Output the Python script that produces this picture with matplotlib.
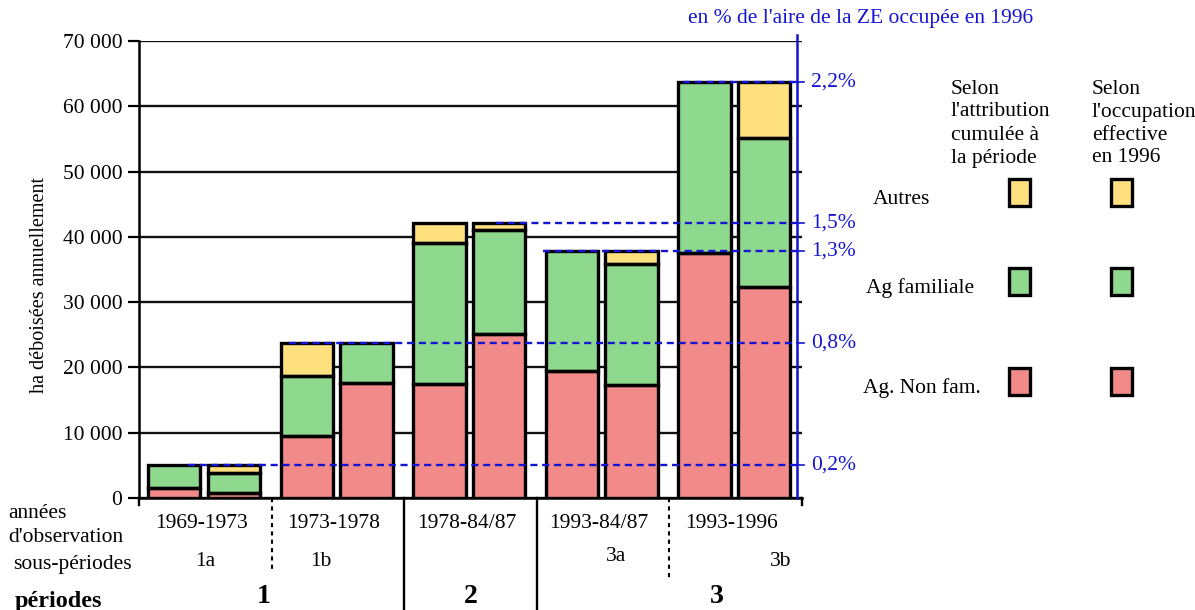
import numpy as np
import matplotlib
matplotlib.use("Agg")
import matplotlib.pyplot as plt
from matplotlib.patches import Rectangle

plt.rcParams['font.family'] = ['Liberation Serif', 'DejaVu Serif']
plt.rcParams['font.size'] = 15.5

# ha déboisés par an, deux barres par période
periodes_obs = ["1969-1973", "1973-1978", "1978-84/87", "1993-84/87", "1993-1996"]

# selon l'attribution cumulée à la période
nonfam_attr = [1500, 9500, 17500, 19500, 37600]
fam_attr = [3600, 9200, 21600, 18300, 26100]
autres_attr = [0, 5000, 3000, 0, 0]

# selon l'occupation effective en 1996
nonfam_occ = [700, 17600, 25100, 17300, 32300]
fam_occ = [3100, 6100, 16000, 18600, 22900]
autres_occ = [1300, 0, 1000, 1900, 8500]

# % de l'aire de la ZE occupée en 1996
pct_labels = ["0,2%", "0,8%", "1,5%", "1,3%", "2,2%"]
pct_debut = [-0.13, 0.63, 2.19, 2.55, 3.60]

yticks = [0, 10000, 20000, 30000, 40000, 50000, 60000, 70000]
ytick_labels = ["0", "10 000", "20 000", "30 000", "40 000", "50 000", "60 000", "70 000"]

sous_periodes = ["1a", "1b", "3a", "3b"]
sous_x = [0.0, 0.87, 3.10, 4.34]
sous_y = [-0.138, -0.138, -0.127, -0.138]
grandes_periodes = ["1", "2", "3"]
grandes_x = [0.44, 2.0, 3.86]

rouge = "#F28A8A"
vert = "#8ED98E"
jaune = "#FFE07F"
bleu = "#1414D2"

fig = plt.figure(figsize=(11.95, 6.10), dpi=100)
ax = fig.add_axes([139 / 1195, 112 / 610, 663 / 1195, 457 / 610])
ax.set_xlim(-0.5, 4.5)
ax.set_ylim(0, 70000)

x = np.arange(len(periodes_obs))
largeur = 0.395
decal = 0.03 * 10000  # petit débord de la couleur sous le contour


def barres_empilees(pos, series, couleurs):
    bas = np.zeros(len(pos))
    for vals, c in zip(series, couleurs):
        vals = np.array(vals, dtype=float)
        for xi, b, v in zip(pos, bas, vals):
            if v <= 0:
                continue
            ax.bar(xi, v + decal, bottom=b - decal, width=largeur, color=c,
                   edgecolor="none", zorder=3)
        bas = bas + vals
    bas = np.zeros(len(pos))
    for vals in series:
        vals = np.array(vals, dtype=float)
        for xi, b, v in zip(pos, bas, vals):
            if v <= 0:
                continue
            ax.bar(xi, v, bottom=b, width=largeur, facecolor="none",
                   edgecolor="black", linewidth=2.4, zorder=4)
        bas = bas + vals
    return bas


tot_attr = barres_empilees(x - 0.235, [nonfam_attr, fam_attr, autres_attr], [rouge, vert, jaune])
tot_occ = barres_empilees(x + 0.215, [nonfam_occ, fam_occ, autres_occ], [rouge, vert, jaune])

# axes et grille
ax.set_yticks(yticks)
ax.set_yticklabels(ytick_labels)
ax.set_xticks([])
ax.yaxis.grid(True, color="#111111", linewidth=1.7, zorder=1)
ax.set_axisbelow(True)
for s in ["top", "right"]:
    ax.spines[s].set_visible(False)
ax.spines["left"].set_linewidth(1.8)
ax.spines["bottom"].set_linewidth(1.8)
ax.tick_params(axis="y", length=8, width=1.6, direction="out", pad=4)
ax.set_ylabel("ha déboisées annuellement", fontsize=14.5)
ax.yaxis.set_label_coords(-0.135, 0.466)

# axe secondaire en %
xb = 4.462
ax.plot([xb, xb], [0, 70900], color=bleu, linewidth=1.8, clip_on=False, zorder=5)
for lab, debut, tot in zip(pct_labels, pct_debut, tot_occ):
    ax.plot([debut, xb], [tot, tot], color=bleu, linewidth=1.7, dashes=(3, 2),
            zorder=6, clip_on=False)
    ax.plot([xb, xb + 0.05], [tot, tot], color=bleu, linewidth=1.2, clip_on=False)
    ax.text(4.57, tot, lab, color=bleu, va="center", ha="left", clip_on=False)

# libellés sous l'axe
trans = ax.get_xaxis_transform()
for xi, lab in zip(x, periodes_obs):
    ax.text(xi - 0.03, -0.055, lab, transform=trans, ha="center", va="center")
for lab, xs, ys in zip(sous_periodes, sous_x, sous_y):
    ax.text(xs, ys, lab, transform=trans, ha="center", va="center")
for lab, xs in zip(grandes_periodes, grandes_x):
    ax.text(xs, -0.215, lab, transform=trans, ha="center", va="center",
            fontsize=20, fontweight="bold")

# séparateurs des périodes
ax.plot([0.5, 0.5], [0, -0.16], transform=trans, color="black", linewidth=1.5,
        linestyle=(0, (2, 2)), clip_on=False)
ax.plot([3.5, 3.5], [0, -0.175], transform=trans, color="black", linewidth=1.5,
        linestyle=(0, (2, 2)), clip_on=False)
for xs in [1.5, 2.5]:
    ax.plot([xs, xs], [0, -0.25], transform=trans, color="black", linewidth=1.7,
            clip_on=False)
for xs in [-0.5, 4.5]:
    ax.plot([xs, xs], [0, -0.016], transform=trans, color="black", linewidth=1.7,
            clip_on=False)

# calque en pixels pour la légende et les titres
ov = fig.add_axes([0, 0, 1, 1], zorder=10)
ov.set_xlim(0, 1195)
ov.set_ylim(610, 0)
ov.axis("off")

ov.text(688, 18, "en % de l'aire de la ZE occupée en 1996", color=bleu, va="center", ha="left")
ov.text(8, 513, "années", va="center", ha="left")
ov.text(8, 537, "d'observation", va="center", ha="left")
ov.text(13, 565, "sous-périodes", va="center", ha="left")
ov.text(15, 601, "périodes", va="center", ha="left", fontsize=17.5, fontweight="bold")

entete_1 = ["Selon", "l'attribution", "cumulée à", "la période"]
entete_2 = ["Selon", "l'occupation", "effective", "en 1996"]
for i, (l1, l2) in enumerate(zip(entete_1, entete_2)):
    ov.text(951, 89 + 23 * i, l1, va="center", ha="left")
    ov.text(1092, 89 + 23 * i, l2, va="center", ha="left")

leg_noms = ["Autres", "Ag familiale", "Ag. Non fam."]
leg_couleurs = [jaune, vert, rouge]
leg_y = [193, 282, 382]
leg_xtxt = [873, 866, 863]
leg_col = [1020, 1122]
for nom, c, yc, xt in zip(leg_noms, leg_couleurs, leg_y, leg_xtxt):
    ov.text(xt, yc + 6, nom, va="center", ha="left")
    for xc in leg_col:
        ov.add_patch(Rectangle((xc - 10, yc - 12), 22, 27, facecolor=c, edgecolor="none"))
        ov.add_patch(Rectangle((xc - 11, yc - 14), 21, 27, facecolor=c, edgecolor="black",
                               linewidth=2.4))

fig.savefig("out.png", dpi=100)
